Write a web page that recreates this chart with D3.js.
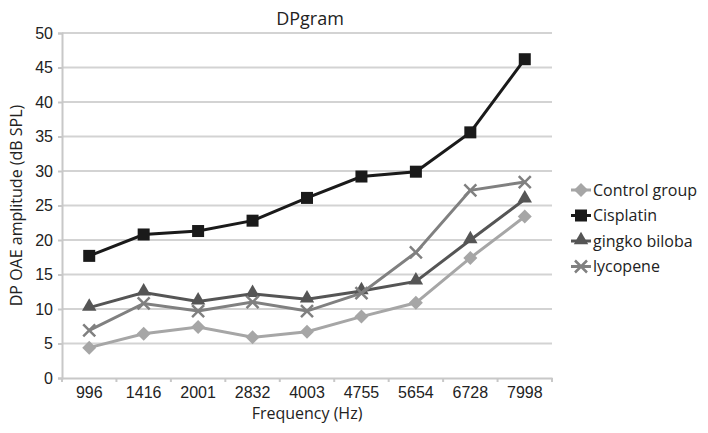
<!DOCTYPE html>
<html>
<head>
  <script src="https://d3js.org/d3.v7.min.js"></script>
  <style>
    body { margin: 0; background: #ffffff; }
    svg { font-family: 'Open Sans', sans-serif; }
    .grid line { stroke: #d3d3d3; stroke-width: 2px; }
  </style>
</head>
<body>
<script>
// Frequencies on the x axis
const frequencies = ["996", "1416", "2001", "2832", "4003", "4755", "5654", "6728", "7998"];

// DP amplitudes per group (dB SPL)
const controlGroup = [4.4, 6.4, 7.4, 5.9, 6.7, 8.9, 10.9, 17.4, 23.4];
const cisplatin = [17.7, 20.8, 21.3, 22.8, 26.1, 29.2, 29.9, 35.6, 46.2];
const gingkoBiloba = [10.2, 12.4, 11.1, 12.2, 11.4, 12.6, 14.0, 20.0, 25.9];
const lycopene = [6.9, 10.8, 9.7, 11.0, 9.7, 12.3, 18.2, 27.2, 28.4];

const yTicks = [0, 5, 10, 15, 20, 25, 30, 35, 40, 45, 50];

const series = [
  { name: "Control group", values: controlGroup, color: "#a6a6a6", symbol: "diamond" },
  { name: "Cisplatin", values: cisplatin, color: "#1a1a1a", symbol: "square" },
  { name: "gingko biloba", values: gingkoBiloba, color: "#555555", symbol: "triangle" },
  { name: "lycopene", values: lycopene, color: "#808080", symbol: "cross" }
];

const width = 708, height = 433;
const margin = { left: 62, right: 156, top: 33, bottom: 55 };

const svg = d3.select("body").append("svg")
  .attr("width", width)
  .attr("height", height);

const x = d3.scaleBand()
  .domain(frequencies)
  .range([margin.left, width - margin.right]);

const y = d3.scaleLinear()
  .domain([0, 50])
  .range([height - margin.bottom, margin.top]);

// horizontal gridlines
svg.append("g").attr("class", "grid")
  .selectAll("line")
  .data(yTicks.slice(1))
  .join("line")
  .attr("x1", margin.left)
  .attr("x2", width - margin.right)
  .attr("y1", d => y(d))
  .attr("y2", d => y(d));

// y axis
const yAxis = svg.append("g")
  .attr("transform", `translate(${margin.left},0)`)
  .call(d3.axisLeft(y).tickValues(yTicks).tickSize(4).tickPadding(5));
yAxis.select(".domain").attr("stroke", "#c8c8c8").attr("stroke-width", 2);
yAxis.selectAll(".tick line").attr("stroke", "#c8c8c8").attr("stroke-width", 2);
yAxis.selectAll("text").attr("font-size", 16).attr("fill", "#222");

// x axis
const xAxis = svg.append("g")
  .attr("transform", `translate(0,${height - margin.bottom})`)
  .call(d3.axisBottom(x).tickSize(0).tickPadding(9));
xAxis.select(".domain").attr("stroke", "#c8c8c8").attr("stroke-width", 2);
xAxis.selectAll("text").attr("font-size", 16).attr("fill", "#222");
// tick marks on the band edges
xAxis.selectAll(".edge")
  .data(frequencies.map(f => x(f)).concat([x.range()[1]]))
  .join("line")
  .attr("class", "edge")
  .attr("x1", d => d).attr("x2", d => d)
  .attr("y1", 0).attr("y2", 4)
  .attr("stroke", "#c8c8c8").attr("stroke-width", 2);

// symbol drawing
function drawSymbol(g, type, color, cx, cy) {
  if (type === "diamond") {
    g.append("path").attr("d", "M0,-7L7,0L0,7L-7,0Z").attr("transform", `translate(${cx},${cy})`).attr("fill", color);
  } else if (type === "square") {
    g.append("rect").attr("x", cx - 6).attr("y", cy - 6).attr("width", 12).attr("height", 12).attr("fill", color);
  } else if (type === "triangle") {
    g.append("path").attr("d", d3.symbol(d3.symbolTriangle, 90)()).attr("transform", `translate(${cx},${cy - 1})`).attr("fill", color);
  } else {
    g.append("path").attr("d", "M-6,-6L6,6M-6,6L6,-6").attr("transform", `translate(${cx},${cy})`)
      .attr("stroke", color).attr("stroke-width", 2.5).attr("fill", "none");
  }
}

const line = d3.line()
  .x((d, i) => x(frequencies[i]) + x.bandwidth() / 2)
  .y(d => y(d));

series.forEach(s => {
  const g = svg.append("g");
  g.append("path")
    .attr("d", line(s.values))
    .attr("fill", "none")
    .attr("stroke", s.color)
    .attr("stroke-width", 3);
  s.values.forEach((v, i) => drawSymbol(g, s.symbol, s.color, x(frequencies[i]) + x.bandwidth() / 2, y(v)));
});

// legend
const legend = svg.append("g").attr("transform", "translate(571,190)");
series.forEach((s, i) => {
  const g = legend.append("g").attr("transform", `translate(0,${i * 25.5})`);
  g.append("line").attr("x1", 0).attr("x2", 20).attr("y1", 0).attr("y2", 0)
    .attr("stroke", s.color).attr("stroke-width", 3);
  drawSymbol(g, s.symbol, s.color, 10, 0);
  g.append("text").attr("x", 22).attr("y", 0).attr("dy", "0.35em")
    .attr("font-size", 16).attr("fill", "#222").text(s.name);
});

// title and axis labels
svg.append("text").attr("x", 310).attr("y", 25).attr("text-anchor", "middle")
  .attr("font-size", 18).attr("fill", "#222").text("DPgram");
svg.append("text").attr("x", (margin.left + width - margin.right) / 2).attr("y", 419)
  .attr("text-anchor", "middle").attr("font-size", 16).attr("fill", "#222").text("Frequency (Hz)");
svg.append("text")
  .attr("transform", `translate(22,${(margin.top + height - margin.bottom) / 2}) rotate(-90)`)
  .attr("text-anchor", "middle").attr("font-size", 16).attr("fill", "#222").text("DP OAE amplitude (dB SPL)");
</script>
</body>
</html>
